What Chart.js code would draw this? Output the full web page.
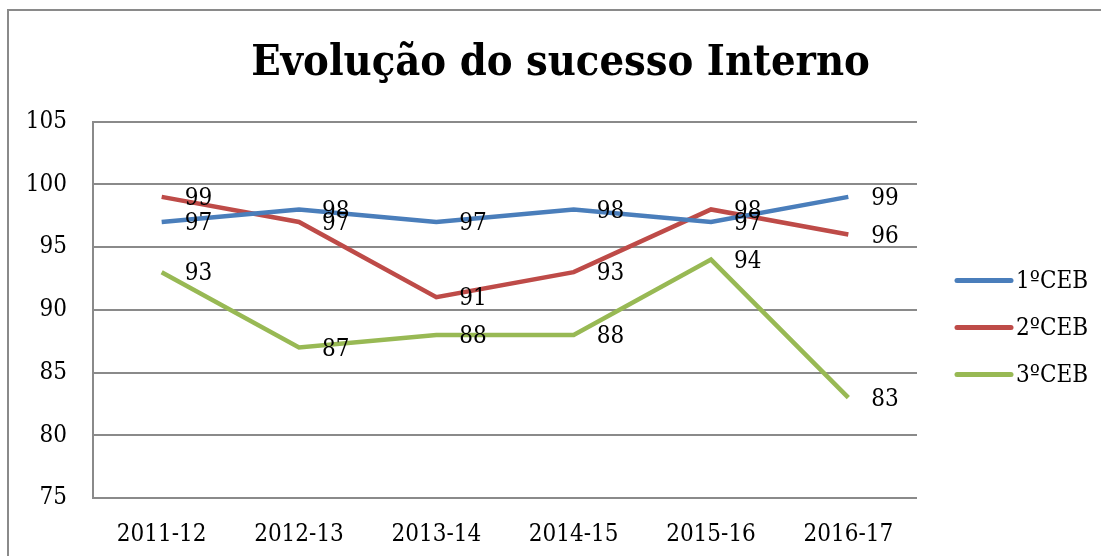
<!DOCTYPE html>
<html>
<head>
<meta charset="utf-8">
<script src="https://cdn.jsdelivr.net/npm/chart.js@4.4.1/dist/chart.umd.min.js"></script>
<style>
  body { margin: 0; background: #fff; overflow: hidden; }
  #wrap { position: relative; width: 1101px; height: 556px; }
  #frame { position: absolute; left: 7px; top: 9px; width: 1200px; height: 700px; border: 2px solid #8a8a8a; box-sizing: border-box; }
</style>
</head>
<body>
<div id="wrap">
  <div id="frame"></div>
  <canvas id="chart"></canvas>
</div>
<script>
// Data
const anos = ['2011-12', '2012-13', '2013-14', '2014-15', '2015-16', '2016-17'];
const ceb1 = [97, 98, 97, 98, 97, 99];
const ceb2 = [99, 97, 91, 93, 98, 96];
const ceb3 = [93, 87, 88, 88, 94, 83];

const serif = '"DejaVu Serif Condensed", "DejaVu Serif", serif';

// labels next to each point
const valueLabels = {
    id: 'valueLabels',
    afterDatasetsDraw(chart) {
        const c = chart.ctx;
        c.save();
        c.font = '24px ' + serif;
        c.fillStyle = '#000';
        c.textAlign = 'left';
        c.textBaseline = 'middle';
        chart.data.datasets.forEach((ds, i) => {
            const meta = chart.getDatasetMeta(i);
            meta.data.forEach((pt, j) => {
                c.fillText(ds.data[j], pt.x + 23, pt.y + 2);
            });
        });
        c.restore();
    }
};

// legend on the right, line samples
const sideLegend = {
    id: 'sideLegend',
    afterDraw(chart) {
        const c = chart.ctx;
        const area = chart.chartArea;
        c.save();
        c.font = '24px ' + serif;
        c.textAlign = 'left';
        c.textBaseline = 'middle';
        chart.data.datasets.forEach((ds, i) => {
            const y = area.top + 159 + i * 47;
            const x = area.right + 40;
            c.strokeStyle = ds.borderColor;
            c.lineWidth = 5;
            c.lineCap = 'round';
            c.beginPath();
            c.moveTo(x, y);
            c.lineTo(x + 54, y);
            c.stroke();
            c.fillStyle = '#000';
            c.fillText(ds.label, x + 59, y + 1);
        });
        c.restore();
    }
};

const ctx = document.getElementById('chart').getContext('2d');
const myChart = new Chart(ctx, {
    type: 'line',
    data: {
        labels: anos,
        datasets: [{
            label: '1ºCEB',
            data: ceb1,
            borderColor: '#4A7EBB',
            backgroundColor: '#4A7EBB',
            borderWidth: 4.5,
            pointRadius: 0,
            tension: 0
        },
        {
            label: '2ºCEB',
            data: ceb2,
            borderColor: '#BE4B48',
            backgroundColor: '#BE4B48',
            borderWidth: 4.5,
            pointRadius: 0,
            tension: 0
        },
        {
            label: '3ºCEB',
            data: ceb3,
            borderColor: '#98B954',
            backgroundColor: '#98B954',
            borderWidth: 4.5,
            pointRadius: 0,
            tension: 0
        }]
    },
    options: {
        responsive: true,
        maintainAspectRatio: false,
        animation: false,
        layout: {
            padding: { left: 20, right: 0, top: 0, bottom: 0 }
        },
        scales: {
            y: {
                min: 75,
                max: 105,
                afterFit: (s) => { s.width = 73; },
                ticks: {
                    stepSize: 5,
                    color: '#000',
                    padding: 26,
                    font: { family: serif, size: 24 }
                },
                grid: {
                    color: '#8a8a8a',
                    lineWidth: 2,
                    drawTicks: false
                },
                border: { color: '#8a8a8a', width: 2 }
            },
            // empty space on the right for the legend
            side: {
                position: 'right',
                afterFit: (s) => { s.width = 184; },
                ticks: { display: false },
                grid: { display: false, drawTicks: false },
                border: { display: false }
            },
            x: {
                offset: true,
                afterFit: (s) => { s.height = 58; },
                ticks: {
                    color: '#000',
                    padding: 22,
                    font: { family: serif, size: 24 }
                },
                grid: { display: false, drawTicks: false },
                border: { display: false }
            }
        },
        plugins: {
            title: {
                display: true,
                text: 'Evolução do sucesso Interno',
                color: '#000',
                font: { family: serif, size: 43, weight: 'bold' },
                padding: { top: 38, bottom: 32 }
            },
            legend: { display: false },
            tooltip: { enabled: false }
        }
    },
    plugins: [valueLabels, sideLegend]
});
</script>
</body>
</html>
